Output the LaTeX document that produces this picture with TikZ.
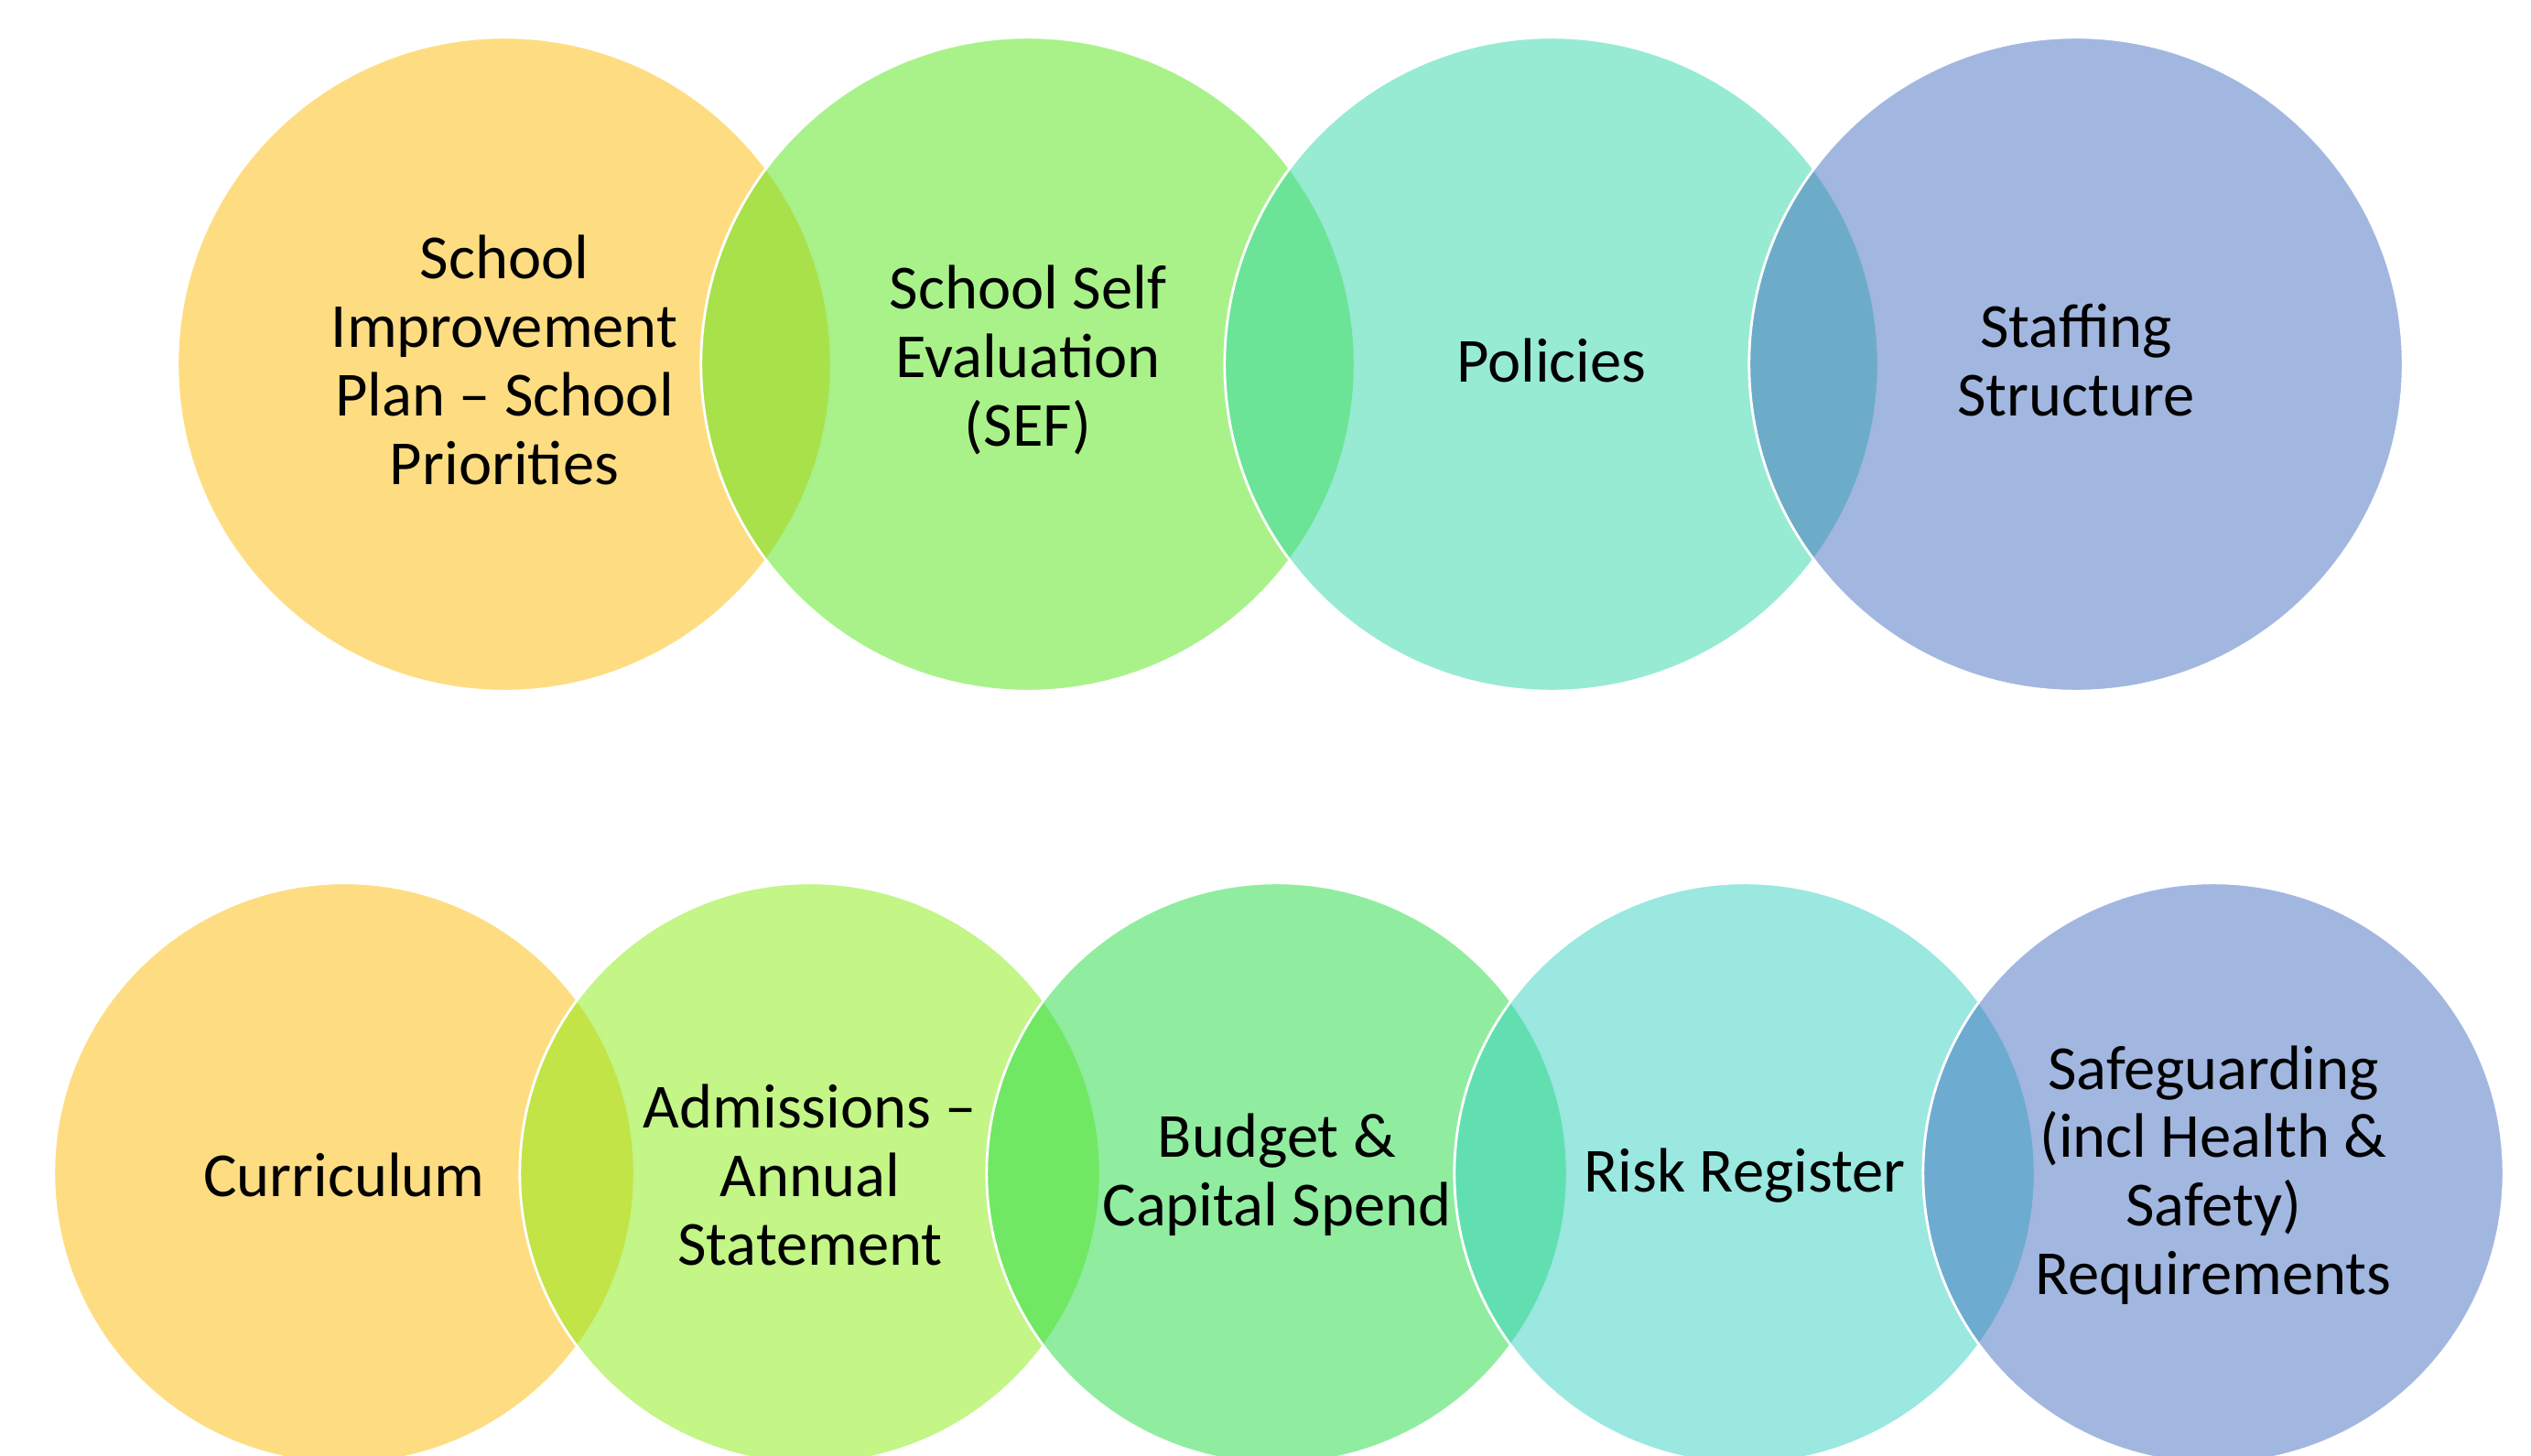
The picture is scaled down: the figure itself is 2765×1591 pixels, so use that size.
\documentclass[tikz,border=0pt]{standalone}
\usepackage{fontspec}
\setmainfont{Carlito}
\definecolor{cYel}{RGB}{253,187,5}
\definecolor{cGrnA}{RGB}{83,229,21}
\definecolor{cTeaA}{RGB}{47,215,165}
\definecolor{cBlu}{RGB}{69,111,193}
\definecolor{cGrnL}{RGB}{135,235,15}
\definecolor{cGrnB}{RGB}{33,219,65}
\definecolor{cTeaB}{RGB}{53,209,193}
\tikzset{
  bub/.style={circle, draw=white, line width=0.8pt, fill opacity=0.5, draw opacity=1, inner sep=0pt, outer sep=0pt},
  bigbub/.style={bub, minimum size=7.14cm},
  smallbub/.style={bub, minimum size=6.34cm},
  lbl/.style={align=center, text=black, inner sep=0pt, font=\fontsize{19.5}{21.3}\selectfont},
  toplbl/.style={lbl, yshift=1.2pt},
  botlbl/.style={lbl, yshift=-0.6pt}
}
\begin{document}
\begin{tikzpicture}[x=0.01cm, y=-0.01cm]
\useasboundingbox (0,0) rectangle (2765,1591);
\clip (0,0) rectangle (2765,1591);
% top row
\node[bigbub, fill=cYel]  (t1) at (551,398) {};
\node[bigbub, fill=cGrnA] (t2) at (1123,398) {};
\node[bigbub, fill=cTeaA] (t3) at (1695,398) {};
\node[bigbub, fill=cBlu]  (t4) at (2268,398) {};
% bottom row
\node[smallbub, fill=cYel]  (b1) at (376,1282) {};
\node[smallbub, fill=cGrnL] (b2) at (885,1282) {};
\node[smallbub, fill=cGrnB] (b3) at (1395,1282) {};
\node[smallbub, fill=cTeaB] (b4) at (1906,1282) {};
\node[smallbub, fill=cBlu]  (b5) at (2418,1282) {};
% labels
\node[toplbl] (lt1) at (t1.center) {School\\Improvement\\Plan – School\\Priorities};
\node[toplbl] (lt2) at (t2.center) {School Self\\Evaluation\\(SEF)};
\node[toplbl] (lt3) at (t3.center) {Policies};
\node[toplbl] (lt4) at (t4.center) {Staffing\\Structure};
\node[botlbl] (lb1) at (b1.center) {Curriculum};
\node[botlbl] (lb2) at (b2.center) {Admissions –\\Annual\\Statement};
\node[botlbl] (lb3) at (b3.center) {Budget \&\\Capital Spend};
\node[botlbl] (lb4) at (b4.center) {Risk Register};
\node[botlbl] (lb5) at (b5.center) {Safeguarding\\(incl Health \&\\Safety)\\Requirements};
\end{tikzpicture}
\end{document}
